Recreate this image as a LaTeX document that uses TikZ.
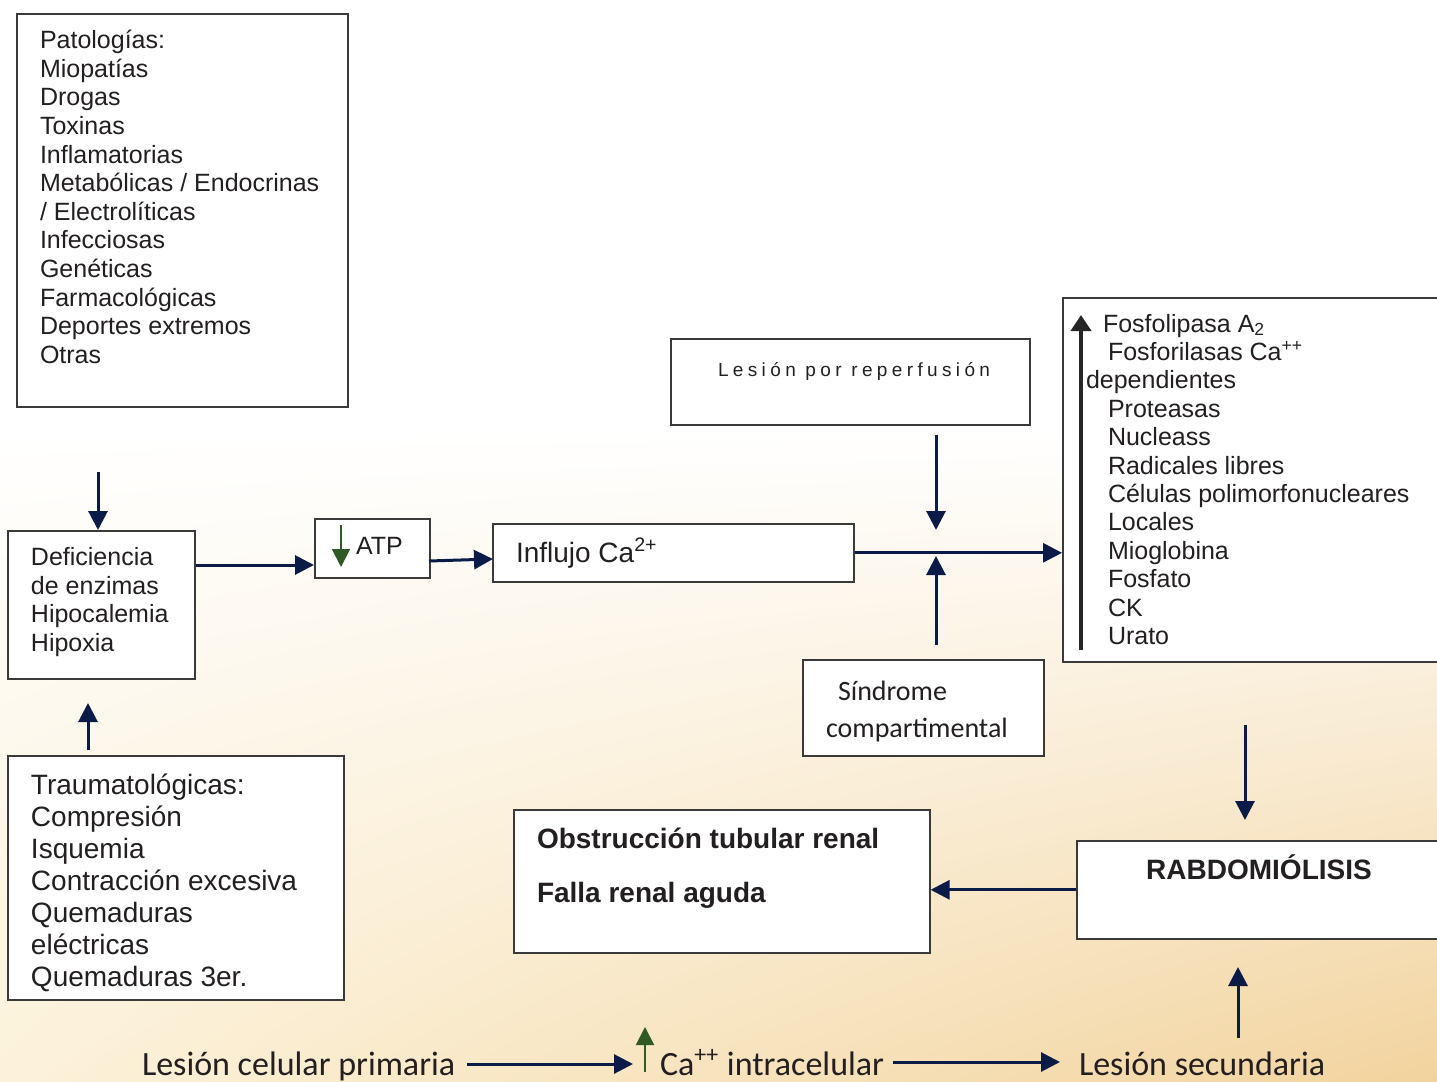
\documentclass[tikz,border=0pt]{standalone}
\usepackage{fontspec}
\setmainfont{Liberation Sans}
\newfontfamily\calfont{Carlito}
\newfontfamily\spacedfont[LetterSpace=23]{Liberation Sans}
\usetikzlibrary{arrows.meta,shadings}
\definecolor{navy}{HTML}{0B1B47}
\definecolor{grn}{HTML}{2F5A24}
\definecolor{boxc}{HTML}{3A3A3A}
\definecolor{textc}{HTML}{231F20}
\definecolor{bgA}{HTML}{FCF2DA}
\definecolor{bgB}{HTML}{F2D39E}
\tikzset{
  box/.style={draw=boxc, line width=0.8pt, fill=white, anchor=north west, inner sep=0pt},
  txt/.style={inner sep=0pt, outer sep=0pt, align=left, text=textc, anchor=base west},
  arr/.style={draw=navy, line width=1.5pt, -{Triangle[length=9.5pt,width=9.5pt]}},
  garr/.style={draw=grn, line width=1pt, -{Triangle[length=9pt,width=9pt]}},
  barr/.style={draw=black!85, line width=2pt, -{Triangle[length=8pt,width=10pt]}},
}
\begin{document}
\begin{tikzpicture}[x=0.5pt,y=-0.5pt]
\clip (0,0) rectangle (1437,1082);
\fill[white] (0,0) rectangle (1437,1082);
\shade[upper left=white, upper right=white, lower left=bgA, lower right=bgB] (0,430) rectangle (1437,1082);

% boxes
\node[box, minimum width=165.5pt, minimum height=196.5pt] (pat) at (16,13) {};
\node[box, minimum width=93.5pt, minimum height=74pt] (def) at (7,530) {};
\node[box, minimum width=168pt, minimum height=122pt] (tra) at (7,755) {};
\node[box, minimum width=57.5pt, minimum height=29.5pt] (atp) at (314,518) {};
\node[box, minimum width=180.5pt, minimum height=29pt] (inf) at (492,523) {};
\node[box, minimum width=179.5pt, minimum height=43pt] (rep) at (670,338) {};
\node[box, minimum width=120.5pt, minimum height=48pt] (sin) at (802,659) {};
\node[box, minimum width=191.5pt, minimum height=182pt] (enz) at (1062,297) {};
\node[box, minimum width=184.5pt, minimum height=49pt] (rab) at (1076,840) {};
\node[box, minimum width=208pt, minimum height=71.5pt] (obs) at (513,809) {};

% texts (multi-line nodes: base anchor = baseline of last line)
\node[txt, font=\fontsize{12.5}{14.32}\selectfont] (pattxt) at (40,363.5)
  {Patologías:\\Miopatías\\Drogas\\Toxinas\\Inflamatorias\\Metabólicas / Endocrinas\\/ Electrolíticas\\Infecciosas\\Genéticas\\Farmacológicas\\Deportes extremos\\Otras};
\node[txt, font=\fontsize{12.5}{14.17}\selectfont] (deftxt) at (31,651)
  {Deficiencia\\de enzimas\\Hipocalemia\\Hipoxia};
\node[txt, font=\fontsize{14}{16}\selectfont] (tratxt) at (31,986)
  {Traumatológicas:\\Compresión\\Isquemia\\Contracción excesiva\\Quemaduras\\eléctricas\\Quemaduras 3er.};
\node[txt, font=\fontsize{12.5}{15}\selectfont] (atptxt) at (356,554) {ATP};
\node[txt, font=\fontsize{14}{16}\selectfont] (inftxt) at (516,562) {Influjo Ca\textsuperscript{2+}};
\node[txt, font=\spacedfont\fontsize{9.5}{11}\selectfont] (reptxt) at (718,376) {Lesión por reperfusión};
\node[txt, font=\calfont\fontsize{14}{18.5}\selectfont] (sintxt) at (826,737)
  {\hspace*{6pt}Síndrome\\compartimental};
\node[txt, font=\fontsize{12.5}{14.2}\selectfont] (enztxt) at (1086,644.4)
  {\hspace*{8.5pt}Fosfolipasa A\textsubscript{2}\\
   \hspace*{11pt}Fosforilasas Ca\textsuperscript{++}\\
   dependientes\\
   \hspace*{11pt}Proteasas\\
   \hspace*{11pt}Nucleass\\
   \hspace*{11pt}Radicales libres\\
   \hspace*{11pt}Células polimorfonucleares\\
   \hspace*{11pt}Locales\\
   \hspace*{11pt}Mioglobina\\
   \hspace*{11pt}Fosfato\\
   \hspace*{11pt}CK\\
   \hspace*{11pt}Urato};
\node[txt, anchor=base, font=\bfseries\fontsize{14}{16}\selectfont] (rabtxt) at (1259,879) {RABDOMIÓLISIS};
\node[txt, font=\bfseries\fontsize{14}{27}\selectfont] (obstxt) at (537,902)
  {Obstrucción tubular renal\\Falla renal aguda};

% bottom line
\node[txt, font=\calfont\fontsize{17}{20}\selectfont] (les1) at (142,1075) {Lesión celular primaria};
\node[txt, font=\calfont\fontsize{17}{20}\selectfont] (ca) at (660,1075) {Ca\textsuperscript{++} intracelular};
\node[txt, font=\calfont\fontsize{17}{20}\selectfont] (les2) at (1079,1075) {Lesión secundaria};

% free-end coordinates
\coordinate (c1) at (98,472);
\coordinate (c2a) at (88,750);
\coordinate (c2b) at (88,703);
\coordinate (c3) at (196,565);
\coordinate (c4a) at (429,561);
\coordinate (c4b) at (493,559);
\coordinate (c5a) at (936,435);
\coordinate (c5b) at (936,530);
\coordinate (c6a) at (936,645);
\coordinate (c6b) at (936,556);
\coordinate (c7a) at (1245,725);
\coordinate (c7b) at (1245,820);
\coordinate (c8a) at (1238,1038);
\coordinate (c8b) at (1238,967);
\coordinate (g1a) at (341,525);
\coordinate (g1b) at (341,567);
\coordinate (g2a) at (645,1072);
\coordinate (g2b) at (645,1027);
\coordinate (k1a) at (1081,650);
\coordinate (k1b) at (1081,315);
\coordinate (b1a) at (467,1064);
\coordinate (b1b) at (633,1064);
\coordinate (b2a) at (893,1062);
\coordinate (b2b) at (1060,1062);

% connectors
\draw[arr] (c1) -- (c1 |- def.north);
\draw[arr] (c2a) -- (c2b);
\draw[arr] (c3) -- (c3 -| atp.west);
\draw[arr] (c4a) -- (c4b);
\draw[arr] (inf.east) -- (inf.east -| enz.west);
\draw[arr] (c5a) -- (c5b);
\draw[arr] (c6a) -- (c6b);
\draw[arr] (c7a) -- (c7b);
\draw[arr] (rab.west) -- (rab.west -| obs.east);
\draw[arr] (c8a) -- (c8b);
\draw[garr] (g1a) -- (g1b);
\draw[garr] (g2a) -- (g2b);
\draw[barr] (k1a) -- (k1b);
\draw[arr] (b1a) -- (b1b);
\draw[arr] (b2a) -- (b2b);
\end{tikzpicture}
\end{document}
